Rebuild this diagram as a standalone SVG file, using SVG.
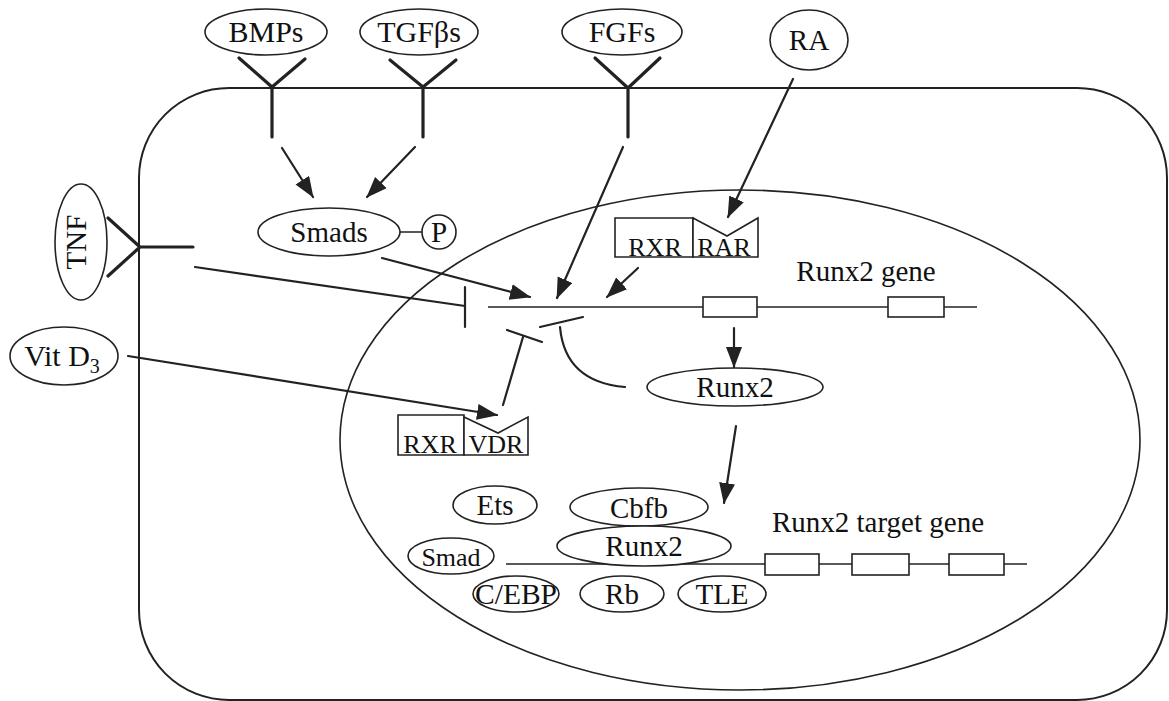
<svg xmlns="http://www.w3.org/2000/svg" width="1169" height="701" viewBox="0 0 1169 701">
<style>
.ol{fill:none;stroke:#222;stroke-width:2}
.el{fill:#fff;stroke:#222;stroke-width:1.6}
.rc{fill:#fff;stroke:#222;stroke-width:1.6}
.rec{fill:none;stroke:#222;stroke-width:3.2;stroke-linecap:round;stroke-linejoin:round}
.ln{fill:none;stroke:#222;stroke-width:2.2;stroke-linecap:round}
.arr{fill:none;stroke:#222;stroke-width:2.2;stroke-linecap:round;marker-end:url(#ah)}
.t{font-family:"Liberation Serif","Times New Roman",serif;font-size:29px;fill:#111;text-anchor:middle}
</style>
<defs>
<marker id="ah" markerUnits="userSpaceOnUse" markerWidth="22" markerHeight="18" refX="20" refY="8" orient="auto">
<path d="M0,0 L21,8 L0,16 z" fill="#222"/>
</marker>
</defs>
<rect fill="#fff" width="1169" height="701"/>
<g id="cell"><rect class="ol" x="139" y="88" width="1028" height="612" rx="90" ry="90"/></g>
<g id="nucleus"><ellipse class="ol" cx="740" cy="440" rx="400" ry="250" style="stroke-width:1.6"/></g>

<g id="connectors">
<path class="arr" d="M282,148 L313,197"/>
<path class="arr" d="M415,147 L367,197"/>
<path class="arr" d="M382,258 L530,297"/>
<path class="arr" d="M623,147 L557,298"/>
<path class="arr" d="M793,79 L728,217"/>
<path class="arr" d="M638,268 L607,297"/>
<path class="arr" d="M128,356 L497,415"/>
<path class="arr" d="M734,328 L734,367"/>
<path class="arr" d="M736,426 L724,503"/>
<path class="ln" d="M195,267 L465,306"/>
<path class="ln" d="M465,287 L465,327"/>
<path class="ln" d="M503,405 L523,337"/>
<path class="ln" d="M507,330 L542,342"/>
<path class="ln" d="M540,327 L583,317"/>
<path class="ln" d="M560,327 Q565,382 625,387"/>
<path class="ln" d="M400,232 L422,232" style="stroke-width:1.4"/>
</g>

<g id="runx2-gene">
<path d="M488,307 L977,307" fill="none" stroke="#222" stroke-width="1.6"/>
<rect class="rc" x="703" y="297" width="54" height="20"/>
<rect class="rc" x="888" y="297" width="56" height="20"/>
<text class="t" x="866" y="281">Runx2 gene</text>
</g>

<g id="target-gene">
<path d="M506,564 L1027,564" fill="none" stroke="#222" stroke-width="1.6"/>
<rect class="rc" x="765" y="554" width="54" height="21"/>
<rect class="rc" x="852" y="554" width="57" height="21"/>
<rect class="rc" x="949" y="554" width="55" height="21"/>
<text class="t" x="878" y="532">Runx2 target gene</text>
</g>

<g id="BMPs">
<path class="rec" d="M239,58 L272,87 L305,59 M272,87 L272,137"/>
<ellipse class="el" cx="266" cy="32" rx="61" ry="23"/>
<text class="t" x="266" y="42" style="font-size:30px">BMPs</text>
</g>
<g id="TGFbs">
<path class="rec" d="M390,60 L423,87 L456,60 M423,87 L423,137"/>
<ellipse class="el" cx="419" cy="32" rx="59" ry="23"/>
<text class="t" x="419" y="42" style="font-size:30px">TGFβs</text>
</g>
<g id="FGFs">
<path class="rec" d="M595,58 L628,88 L660,58 M628,88 L628,137"/>
<ellipse class="el" cx="622" cy="32" rx="60" ry="23"/>
<text class="t" x="622" y="42" style="font-size:30px">FGFs</text>
</g>
<g id="RA">
<ellipse class="el" cx="809" cy="40" rx="39" ry="30"/>
<text class="t" x="809" y="50">RA</text>
</g>
<g id="TNF">
<path class="rec" d="M108,218 L140,247 L108,276 M140,247 L193,247"/>
<ellipse class="el" cx="81" cy="242" rx="26" ry="58"/>
<text class="t" transform="translate(86,242) rotate(-90)" x="0" y="0">TNF</text>
</g>
<g id="VitD3">
<ellipse class="el" cx="64" cy="356" rx="54" ry="29"/>
<text class="t" x="62" y="366" style="font-size:30px">Vit D<tspan font-size="20" dy="7">3</tspan></text>
</g>
<g id="Smads">
<ellipse class="el" cx="329" cy="232" rx="71" ry="24"/>
<text class="t" x="329" y="242">Smads</text>
</g>
<g id="P">
<circle class="el" cx="439" cy="232" r="17"/>
<text class="t" x="439" y="242">P</text>
</g>
<g id="RXR-RAR">
<path class="rc" d="M615,218 L693,218 L693,257 L615,257 Z"/>
<path class="rc" d="M693,218 L727,236 L758,218 L758,257 L693,257 Z"/>
<text class="t" x="655" y="256" style="font-size:26px">RXR</text>
<text class="t" x="724" y="256" style="font-size:26px">RAR</text>
</g>
<g id="RXR-VDR">
<path class="rc" d="M398,415 L464,415 L464,455 L398,455 Z"/>
<path class="rc" d="M464,417 L498,433 L528,417 L528,455 L464,455 Z"/>
<text class="t" x="430" y="453" style="font-size:26px">RXR</text>
<text class="t" x="496" y="453" style="font-size:26px">VDR</text>
</g>
<g id="Runx2">
<ellipse class="el" cx="735" cy="387" rx="88" ry="19"/>
<text class="t" x="735" y="397">Runx2</text>
</g>
<g id="Ets">
<ellipse class="el" cx="495" cy="505" rx="42" ry="19"/>
<text class="t" x="495" y="515">Ets</text>
</g>
<g id="Cbfb">
<ellipse class="el" cx="639" cy="507" rx="69" ry="19"/>
<text class="t" x="639" y="518">Cbfb</text>
</g>
<g id="Runx2-bound">
<ellipse class="el" cx="644" cy="546" rx="87" ry="20"/>
<text class="t" x="644" y="556">Runx2</text>
</g>
<g id="Smad">
<ellipse class="el" cx="451" cy="556" rx="43" ry="18"/>
<text class="t" x="451" y="566" style="font-size:26px">Smad</text>
</g>
<g id="CEBP">
<ellipse class="el" cx="516" cy="594" rx="43" ry="18"/>
<text class="t" x="516" y="604" textLength="82" lengthAdjust="spacingAndGlyphs">C/EBP</text>
</g>
<g id="Rb">
<ellipse class="el" cx="622" cy="594" rx="42" ry="18"/>
<text class="t" x="622" y="604">Rb</text>
</g>
<g id="TLE">
<ellipse class="el" cx="722" cy="594" rx="44" ry="18"/>
<text class="t" x="722" y="604">TLE</text>
</g>
</svg>
